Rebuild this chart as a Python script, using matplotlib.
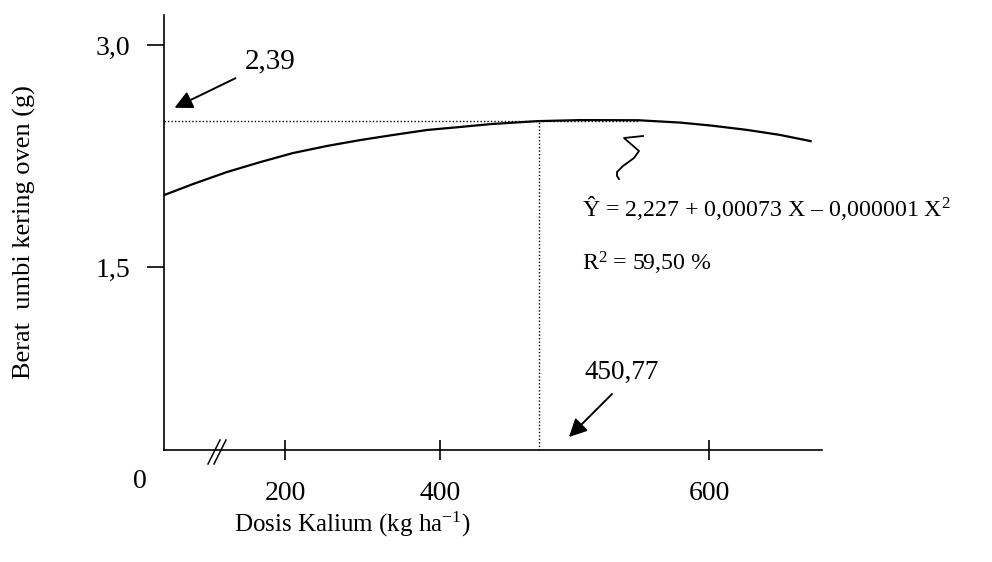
import numpy as np
import matplotlib
matplotlib.use('Agg')
import matplotlib.pyplot as plt

plt.rcParams['font.family'] = ['Liberation Serif', 'DejaVu Serif']
plt.rcParams['mathtext.fontset'] = 'custom'
plt.rcParams['mathtext.rm'] = 'Liberation Serif'
plt.rcParams['mathtext.it'] = 'Liberation Serif:italic'

# data (dosis kg/ha, berat g)
dosis = [0, 48, 104, 159, 210, 254, 297, 339, 383, 410, 426, 450, 487, 538, 575, 603, 633, 662, 689]
berat = [1.986, 2.061, 2.142, 2.209, 2.270, 2.318, 2.358, 2.392, 2.426, 2.446, 2.466, 2.486,
         2.493, 2.492, 2.476, 2.455, 2.427, 2.393, 2.351]

x_ticks = [200, 400, 600]
x_tick_labels = ['200', '400', '600']
y_ticks = [1.5, 3.0]
y_tick_labels = ['1,5', '3,0']

dosis_opt = 450.77
berat_garis = 2.49      # posisi garis putus-putus pada gambar
garis_x_akhir = 538
label_opt_x = '450,77'
label_opt_y = '2,39'
persamaan = 'Ŷ = 2,227 + 0,00073 X – 0,000001 X$^{2}$'
r2 = 'R$^{2}$ = 59,50 %'

# sumbu x digambar tangan: jarak antar angka tidak sama
skala_dosis = [0, 200, 400, 450.77, 600, 699]
skala_pos = [0, 121, 276, 375, 545, 658]


def maju(x):
    return np.interp(x, skala_dosis, skala_pos)


def balik(p):
    return np.interp(p, skala_pos, skala_dosis)


W, H = 992, 562


def fp(x, y):
    # piksel gambar -> fraksi figure
    return (x / W, 1 - y / H)


fig = plt.figure(figsize=(9.92, 5.62), dpi=100)
ax = fig.add_axes([164 / W, 1 - 450 / H, 658 / W, 435 / H])
ax.set_xscale('function', functions=(maju, balik))
ax.set_xlim(0, 699)
ax.set_ylim(0.264, 3.203)

ax.plot(dosis, berat, color='black', lw=1.6)
ax.plot([0, garis_x_akhir], [berat_garis, berat_garis], color='black', lw=1,
        linestyle=(0, (1, 1.5)))
ax.plot([dosis_opt, dosis_opt], [0.264, berat_garis], color='black', lw=1,
        linestyle=(0, (1, 1.5)))

for s in ['top', 'right']:
    ax.spines[s].set_visible(False)
for s in ['left', 'bottom']:
    ax.spines[s].set_linewidth(1.2)

ax.set_xticks(x_ticks)
ax.set_xticklabels(x_tick_labels, fontsize=20)
ax.set_yticks(y_ticks)
ax.set_yticklabels(y_tick_labels, fontsize=20)
ax.tick_params(axis='x', direction='inout', length=14, width=1.2, pad=15)
ax.tick_params(axis='y', direction='out', length=12, width=1.2, pad=12)
ax.minorticks_off()

ax.set_ylabel('Berat  umbi kering oven (g)', fontsize=19)
ax.yaxis.set_label_coords(-128 / 658, 0.5)
fig.text(*fp(352, 524), 'Dosis Kalium (kg ha$^{-1}$)', fontsize=18,
         ha='center', va='center')

fig.text(*fp(140, 482), '0', fontsize=20, ha='center', va='center')

# tanda patah sumbu
for dx in [0, 6]:
    xs, ys = zip(fp(208 + dx, 464), fp(220 + dx, 440))
    fig.add_artist(plt.Line2D(xs, ys, color='black', lw=1.1))

# panah dan label
ap = dict(arrowstyle='-|>', color='black', lw=1.4, mutation_scale=27)
ax.annotate('', xy=fp(172, 109), xytext=fp(238, 77), xycoords='figure fraction',
            textcoords='figure fraction', arrowprops=ap)
fig.text(*fp(270, 61), label_opt_y, fontsize=21, ha='center', va='center')
ax.annotate('', xy=fp(567, 439), xytext=fp(614, 392), xycoords='figure fraction',
            textcoords='figure fraction', arrowprops=ap)
fig.text(*fp(622, 372), label_opt_x, fontsize=19.5, ha='center', va='center')

# coretan penunjuk persamaan
cx = [643, 624, 639, 634, 623, 617, 617, 619]
cy = [136, 138, 151, 158, 166, 172, 176, 179]
pts = [fp(a, b) for a, b in zip(cx, cy)]
fig.add_artist(plt.Line2D([p[0] for p in pts], [p[1] for p in pts], color='black', lw=1.3))

fig.text(*fp(582, 208), persamaan, fontsize=17.2, ha='left', va='center')
fig.text(*fp(582, 263), r2, fontsize=17.2, ha='left', va='center')

fig.savefig('out.png', dpi=100)
